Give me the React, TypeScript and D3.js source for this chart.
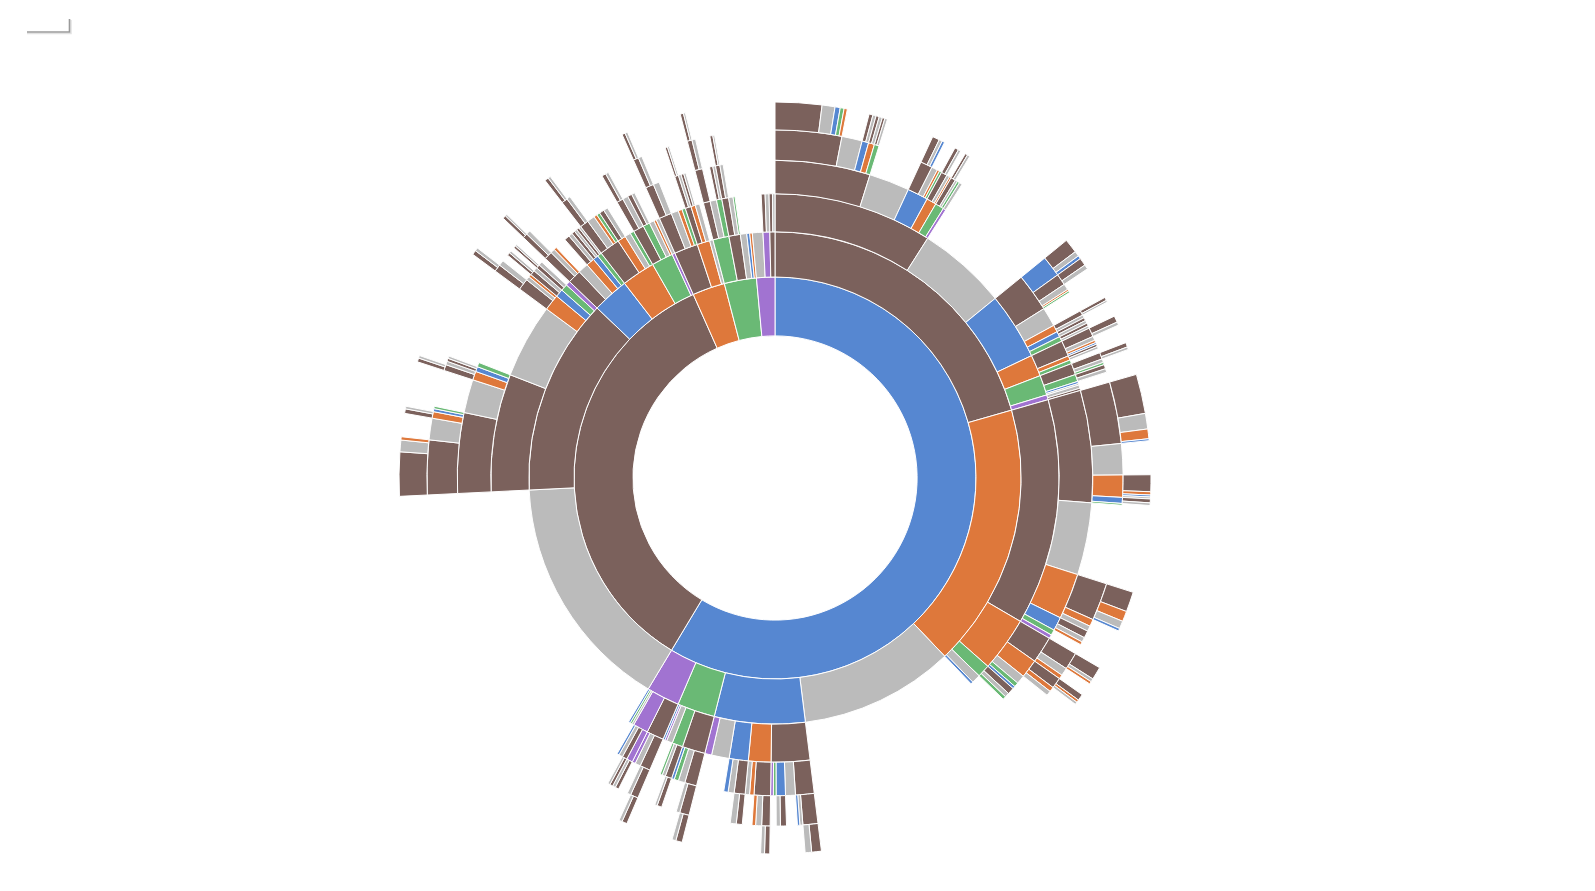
import React, { useMemo } from "react";
import * as d3 from "d3";

// Visit sequences (value = visits). Each sequence is a path of page types.
const homeSequences: [string, number][] = [
  ["home-product-product-product-product-product", 72],
  ["home-product-product-product-product-end", 20],
  ["home-product-product-product-product-home", 8],
  ["home-product-product-product-product-search", 5],
  ["home-product-product-product-product-account", 6],
  ["home-product-product-product-end", 34],
  ["home-product-product-product-home-product", 6],
  ["home-product-product-product-home-end", 5],
  ["home-product-product-product-search-product", 5],
  ["home-product-product-product-search-end", 5],
  ["home-product-product-product-account-product", 4],
  ["home-product-product-product-account-end", 4],
  ["home-product-product-end", 74],
  ["home-product-product-home-product-product", 11],
  ["home-product-product-home-product-end", 5],
  ["home-product-product-home-product-home", 4],
  ["home-product-product-home-end", 10],
  ["home-product-product-home-search", 4],
  ["home-product-product-home-account", 4],
  ["home-product-product-search-product-product", 6],
  ["home-product-product-search-product-end", 4],
  ["home-product-product-search-end", 5],
  ["home-product-product-search-search", 3],
  ["home-product-product-account-product-product", 4],
  ["home-product-product-account-product-end", 4],
  ["home-product-product-account-end", 4],
  ["home-product-product-account-account", 4],
  ["home-product-product-other-end", 5],
  ["home-product-end", 183],
  ["home-product-home-product-home-product", 22],
  ["home-product-home-product-home-end", 8],
  ["home-product-home-product-home-home", 5],
  ["home-product-home-product-product-product", 12],
  ["home-product-home-product-product-end", 7],
  ["home-product-home-product-end", 10],
  ["home-product-home-product-search", 3],
  ["home-product-home-product-account", 3],
  ["home-product-home-end", 35],
  ["home-product-home-search-product-product", 5],
  ["home-product-home-search-product-end", 3],
  ["home-product-home-search-end", 5],
  ["home-product-home-home-product", 5],
  ["home-product-home-home-end", 5],
  ["home-product-home-account-product", 5],
  ["home-product-home-account-end", 4],
  ["home-product-search-product-product-product", 10],
  ["home-product-search-product-product-end", 5],
  ["home-product-search-product-end", 7],
  ["home-product-search-product-search", 4],
  ["home-product-search-product-home", 3],
  ["home-product-search-search-product", 4],
  ["home-product-search-search-end", 4],
  ["home-product-search-account", 7],
  ["home-product-account-product-product-product", 7],
  ["home-product-account-product-product-end", 4],
  ["home-product-account-product-end", 6],
  ["home-product-account-product-account", 4],
  ["home-product-account-account-product", 7],
  ["home-product-account-account-end", 6],
  ["home-product-account-home", 4],
  ["home-product-account-end", 3],
  ["home-product-other-end", 6],
  ["home-product-other-product", 4],
  ["home-search-product-product-product-product", 61],
  ["home-search-product-product-product-end", 24],
  ["home-search-product-product-product-search", 15],
  ["home-search-product-product-product-home", 3],
  ["home-search-product-product-end", 52],
  ["home-search-product-product-search-product", 26],
  ["home-search-product-product-search-search", 5],
  ["home-search-product-product-search-home", 3],
  ["home-search-product-product-search-end", 3],
  ["home-search-product-product-home-product", 6],
  ["home-search-product-product-home-end", 4],
  ["home-search-product-product-account", 3],
  ["home-search-product-end", 132],
  ["home-search-product-search-product-product", 31],
  ["home-search-product-search-product-search", 16],
  ["home-search-product-search-product-end", 12],
  ["home-search-product-search-product-home", 4],
  ["home-search-product-search-search", 12],
  ["home-search-product-search-end", 9],
  ["home-search-product-home-product", 12],
  ["home-search-product-home-end", 8],
  ["home-search-product-home-search", 5],
  ["home-search-product-account", 10],
  ["home-search-product-other", 7],
  ["home-search-search-product-product-product", 20],
  ["home-search-search-product-product-end", 5],
  ["home-search-search-product-product-search", 4],
  ["home-search-search-product-end", 13],
  ["home-search-search-product-search", 7],
  ["home-search-search-search-product-product", 10],
  ["home-search-search-search-product-search", 4],
  ["home-search-search-search-product-end", 4],
  ["home-search-search-search-search", 8],
  ["home-search-search-search-end", 8],
  ["home-search-search-end", 16],
  ["home-search-search-account", 8],
  ["home-search-search-home", 5],
  ["home-search-account-product", 12],
  ["home-search-account-end", 8],
  ["home-search-account-account", 6],
  ["home-search-end", 18],
  ["home-search-home", 5],
  ["home-end", 365],
  ["home-home-product-product-product-product", 15],
  ["home-home-product-product-product-end", 10],
  ["home-home-product-product-home", 4],
  ["home-home-product-product-end", 5],
  ["home-home-product-end", 18],
  ["home-home-product-home-product", 10],
  ["home-home-product-home-end", 7],
  ["home-home-product-account", 5],
  ["home-home-product-other", 5],
  ["home-home-search-product-product-product", 8],
  ["home-home-search-product-product-end", 6],
  ["home-home-search-product-end", 10],
  ["home-home-search-product-search", 6],
  ["home-home-search-search", 8],
  ["home-home-search-end", 8],
  ["home-home-home-product-product", 10],
  ["home-home-home-product-end", 10],
  ["home-home-home-end", 11],
  ["home-home-home-home", 8],
  ["home-home-end", 36],
  ["home-home-other", 14],
  ["home-account-product-product-product-product", 10],
  ["home-account-product-product-product-end", 6],
  ["home-account-product-product-end", 6],
  ["home-account-product-end", 12],
  ["home-account-product-account", 8],
  ["home-account-product-home", 5],
  ["home-account-account-product-product", 8],
  ["home-account-account-product-end", 4],
  ["home-account-account-end", 6],
  ["home-account-account-account", 4],
  ["home-account-end", 12],
  ["home-account-other", 4],
  ["home-account-home", 4],
  ["home-other-product-product-product-product", 8],
  ["home-other-product-product-product-end", 5],
  ["home-other-product-product-end", 6],
  ["home-other-product-end", 10],
  ["home-other-product-other", 6],
  ["home-other-other-other-product", 6],
  ["home-other-other-other-end", 5],
  ["home-other-other-product-product", 5],
  ["home-other-other-product-end", 4],
  ["home-other-other-end", 7],
  ["home-other-other-home", 4],
  ["home-other-end", 4],
  ["home-other-account", 4],
  ["home-other-home", 4],
];

const productSequences: [string, number][] = [
  ["product-end", 562],
  ["product-product-product-product-product-product", 68],
  ["product-product-product-product-product-end", 18],
  ["product-product-product-product-product-search", 5],
  ["product-product-product-product-end", 36],
  ["product-product-product-product-search-product", 7],
  ["product-product-product-product-search-end", 4],
  ["product-product-product-product-home", 5],
  ["product-product-product-product-account", 4],
  ["product-product-product-end", 61],
  ["product-product-product-search-product-product", 6],
  ["product-product-product-search-product-end", 4],
  ["product-product-product-search-end", 6],
  ["product-product-product-home-product", 5],
  ["product-product-product-home-end", 4],
  ["product-product-product-account", 8],
  ["product-product-end", 152],
  ["product-product-search-product-product-product", 7],
  ["product-product-search-product-product-end", 5],
  ["product-product-search-product-end", 9],
  ["product-product-search-search", 5],
  ["product-product-search-end", 7],
  ["product-product-home-product-product", 5],
  ["product-product-home-product-end", 4],
  ["product-product-home-end", 7],
  ["product-product-account-product-product", 4],
  ["product-product-account-product-end", 3],
  ["product-product-account-end", 7],
  ["product-product-other", 9],
  ["product-home-product-product-product-product", 5],
  ["product-home-product-product-product-end", 3],
  ["product-home-product-product-end", 7],
  ["product-home-product-end", 8],
  ["product-home-product-search", 5],
  ["product-home-end", 21],
  ["product-home-search-product", 10],
  ["product-home-search-end", 7],
  ["product-home-home-product", 6],
  ["product-home-home-end", 5],
  ["product-home-account-product", 5],
  ["product-home-account-end", 4],
  ["product-search-product-product-product-product", 6],
  ["product-search-product-product-product-end", 4],
  ["product-search-product-product-end", 6],
  ["product-search-product-end", 14],
  ["product-search-product-search", 6],
  ["product-search-product-account", 6],
  ["product-search-search-product", 9],
  ["product-search-search-end", 8],
  ["product-search-end", 12],
  ["product-search-account", 8],
  ["product-account-product-product-product", 7],
  ["product-account-product-product-end", 5],
  ["product-account-product-end", 10],
  ["product-account-account-product", 8],
  ["product-account-account-end", 6],
  ["product-account-end", 10],
  ["product-account-search", 5],
  ["product-other-end", 7],
];

const searchSequences: [string, number][] = [
  ["search-product-product-product-product-product", 5],
  ["search-product-product-product-product-end", 4],
  ["search-product-product-product-end", 6],
  ["search-product-product-end", 11],
  ["search-product-end", 15],
  ["search-product-search", 8],
  ["search-product-account", 7],
  ["search-search-product-product-product", 4],
  ["search-search-product-product-end", 3],
  ["search-search-product-end", 5],
  ["search-search-search-product", 5],
  ["search-search-search-end", 4],
  ["search-search-end", 9],
  ["search-end", 8],
];

const accountSequences: [string, number][] = [
  ["account-account-product-product-product-product", 5],
  ["account-account-product-product-product-end", 3],
  ["account-account-product-product-end", 6],
  ["account-account-account-product", 6],
  ["account-account-account-end", 5],
  ["account-account-end", 13],
  ["account-product-product-product-product", 5],
  ["account-product-product-product-end", 3],
  ["account-product-product-end", 6],
  ["account-product-end", 9],
  ["account-product-account", 4],
  ["account-end", 15],
  ["account-home", 7],
  ["account-search", 6],
];

const otherSequences: [string, number][] = [
  ["other-end", 25],
  ["other-other-product", 8],
  ["other-other-end", 8],
  ["other-product-product", 7],
  ["other-product-end", 5],
];

const pageColors: Record<string, string> = {
  home: "#5687d1",
  product: "#7b615c",
  search: "#de783b",
  account: "#6ab975",
  other: "#a173d1",
  end: "#bbbbbb",
};

type TreeNode = { name: string; size?: number; children?: TreeNode[] };

function buildHierarchy(rows: [string, number][]): TreeNode {
  const root: TreeNode = { name: "root", children: [] };
  for (const [seq, size] of rows) {
    const parts = seq.split("-");
    let node = root;
    parts.forEach((name, i) => {
      if (i < parts.length - 1) {
        let child = node.children!.find((c) => c.name === name && c.children);
        if (!child) {
          child = { name, children: [] };
          node.children!.push(child);
        }
        node = child;
      } else {
        node.children!.push({ name, size });
      }
    });
  }
  return root;
}

const WIDTH = 1595;
const HEIGHT = 891;
const CX = 775;
const CY = 478;
const RADIUS = 376;

export default function App() {
  const nodes = useMemo(() => {
    const data = buildHierarchy([
      ...homeSequences,
      ...productSequences,
      ...searchSequences,
      ...accountSequences,
      ...otherSequences,
    ]);
    const root = d3
      .hierarchy<TreeNode>(data)
      .sum((d) => d.size || 0)
      .sort((a, b) => (b.value || 0) - (a.value || 0));
    const part = d3.partition<TreeNode>().size([2 * Math.PI, RADIUS * RADIUS]);
    return part(root)
      .descendants()
      .filter((d) => d.depth > 0 && d.x1 - d.x0 > 0.005);
  }, []);

  const arc = d3
    .arc<d3.HierarchyRectangularNode<TreeNode>>()
    .startAngle((d) => d.x0)
    .endAngle((d) => d.x1)
    .innerRadius((d) => Math.sqrt(d.y0))
    .outerRadius((d) => Math.sqrt(d.y1));

  return (
    <svg
      width={WIDTH}
      height={HEIGHT}
      style={{ position: "absolute", left: 0, top: 0, background: "#ffffff" }}
    >
      <g>
        <polyline
          points="27,33.5 71,33.5 71,20"
          fill="none"
          stroke="#e2e2e2"
          strokeWidth={1.5}
        />
        <polyline
          points="27,32 69.5,32 69.5,19"
          fill="none"
          stroke="#9a9a9a"
          strokeWidth={1.6}
        />
      </g>
      <g transform={`translate(${CX},${CY})`}>
        {nodes.map((d, i) => (
          <path
            key={i}
            d={arc(d) || ""}
            fill={pageColors[d.data.name]}
            stroke="#fff"
            strokeWidth={1}
          />
        ))}
      </g>
    </svg>
  );
}
